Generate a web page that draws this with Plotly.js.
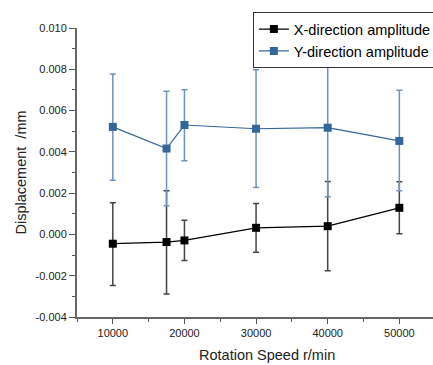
<!DOCTYPE html>
<html>
<head>
<meta charset="utf-8">
<script src="https://cdn.plot.ly/plotly-3.0.1.min.js"></script>
<style>html,body{margin:0;padding:0;background:#fff;}#chart{width:433px;height:365px;}</style>
</head>
<body>
<div id="chart"></div>
<script>
const speeds = [10000, 17500, 20000, 30000, 40000, 50000];
const xAmp = [-0.00045, -0.00037, -0.00029, 0.00032, 0.00040, 0.00129];
const xErrPlus = [0.00198, 0.00248, 0.00098, 0.00118, 0.00217, 0.00126];
const xErrMinus = [0.00202, 0.00252, 0.00097, 0.00118, 0.00216, 0.00126];
const yAmp = [0.00521, 0.00416, 0.00530, 0.00512, 0.00517, 0.00453];
const yErrPlus = [0.00256, 0.00277, 0.00171, 0.00286, 0.00333, 0.00245];
const yErrMinus = [0.00259, 0.00277, 0.00173, 0.00285, 0.00334, 0.00242];
const seriesNames = ["X-direction amplitude", "Y-direction amplitude"];
const xTicks = [10000, 20000, 30000, 40000, 50000];
const yTicks = [-0.004, -0.002, 0.000, 0.002, 0.004, 0.006, 0.008, 0.010];

const font = "Arial, 'Liberation Sans', sans-serif";

const traces = [
  {
    x: speeds, y: xAmp, name: seriesNames[0], type: "scatter", mode: "lines+markers",
    line: {color: "#000000", width: 1.2},
    marker: {symbol: "square", size: 8, color: "#000000"},
    error_y: {type: "data", symmetric: false, array: xErrPlus, arrayminus: xErrMinus,
              color: "#444444", thickness: 1.5, width: 3}
  },
  {
    x: speeds, y: yAmp, name: seriesNames[1], type: "scatter", mode: "lines+markers",
    line: {color: "#3465a0", width: 1.2},
    marker: {symbol: "square", size: 8, color: "#336699"},
    error_y: {type: "data", symmetric: false, array: yErrPlus, arrayminus: yErrMinus,
              color: "#6f93bf", thickness: 1.5, width: 3}
  }
];

const layout = {
  width: 433, height: 365,
  margin: {l: 77, r: 0, t: 28, b: 48, autoexpand: false},
  paper_bgcolor: "#ffffff", plot_bgcolor: "#ffffff",
  font: {family: font, color: "#222222", size: 11},
  showlegend: true,
  legend: {
    x: 0.494, xanchor: "left", y: 1.055, yanchor: "top",
    bgcolor: "#ffffff", bordercolor: "#333333", borderwidth: 1,
    font: {family: font, size: 14.5, color: "#000000"},
    tracegroupgap: 0, itemwidth: 30
  },
  xaxis: {
    range: [5000, 54700],
    tickvals: xTicks, ticktext: xTicks.map(String),
    ticks: "outside", ticklen: 5, tickwidth: 1, tickcolor: "#555555",
    showline: true, linecolor: "#666666", linewidth: 2,
    showgrid: false, zeroline: false,
    minor: {dtick: 5000, tick0: 5000, ticks: "outside", ticklen: 3, tickcolor: "#555555", showgrid: false},
    tickfont: {size: 11, color: "#222222"},
    title: {text: "", font: {size: 14.5}}
  },
  yaxis: {
    range: [-0.004, 0.010],
    tickvals: yTicks, ticktext: yTicks.map(v => v.toFixed(3)),
    ticks: "outside", ticklen: 6, tickwidth: 1, tickcolor: "#555555",
    showline: true, linecolor: "#666666", linewidth: 2,
    showgrid: false, zeroline: false,
    minor: {dtick: 0.001, tick0: 0, ticks: "outside", ticklen: 3, tickcolor: "#555555", showgrid: false},
    tickfont: {size: 11, color: "#222222"},
    title: {text: "Displacement&nbsp; /mm", font: {size: 14.5, color: "#222222"}, standoff: 6}
  },
  annotations: [
    {text: "Rotation Speed r/min", xref: "paper", yref: "paper", x: 0.535, y: -0.131,
     xanchor: "center", yanchor: "middle", showarrow: false,
     font: {family: font, size: 14.5, color: "#222222"}}
  ]
};

Plotly.newPlot("chart", traces, layout, {displayModeBar: false, staticPlot: true});
</script>
</body>
</html>
